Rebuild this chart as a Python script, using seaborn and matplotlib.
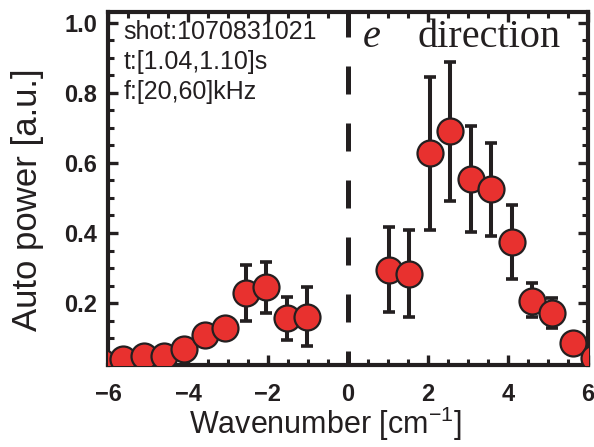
import numpy as np
import pandas as pd
import matplotlib
matplotlib.use("Agg")
import matplotlib.pyplot as plt
import seaborn as sns
from matplotlib.ticker import MultipleLocator

# Auto power spectrum versus wavenumber
wavenumber = [-6.14, -5.62, -5.11, -4.60, -4.09, -3.58, -3.07, -2.56, -2.05, -1.53, -1.02,
              1.02, 1.53, 2.05, 2.56, 3.07, 3.58, 4.09, 4.60, 5.11, 5.62, 6.14]
power = [0.031, 0.040, 0.049, 0.050, 0.068, 0.110, 0.128, 0.229, 0.245, 0.157, 0.160,
         0.294, 0.283, 0.628, 0.691, 0.555, 0.526, 0.375, 0.206, 0.171, 0.086, 0.043]
# error bar ends (NaN where the uncertainty is hidden by the marker)
err_low = [np.nan, np.nan, np.nan, np.nan, np.nan, np.nan, np.nan, 0.149, 0.172, 0.094, 0.077,
           0.174, 0.160, 0.409, 0.491, 0.403, 0.391, 0.269, 0.160, 0.130, np.nan, np.nan]
err_high = [np.nan, np.nan, np.nan, np.nan, np.nan, np.nan, np.nan, 0.309, 0.317, 0.217, 0.245,
            0.417, 0.408, 0.845, 0.889, 0.705, 0.656, 0.480, 0.258, 0.214, np.nan, np.nan]

info_lines = ["shot:1070831021", "t:[1.04,1.10]s", "f:[20,60]kHz"]
x_ticks = [-6, -4, -2, 0, 2, 4, 6]
y_ticks = [0.2, 0.4, 0.6, 0.8, 1.0]

df = pd.DataFrame({"k": wavenumber, "power": power, "lo": err_low, "hi": err_high})

ink = "#231f20"
red = "#e8312f"

sns.set_style("ticks")
plt.rcParams["font.family"] = ["Liberation Sans", "DejaVu Sans"]

fig = plt.figure(figsize=(5.94, 4.47), dpi=100)
ax = fig.add_axes([0.1818, 0.1834, 0.8081, 0.7897])

xmin, xmax = -6.0, 6.0
ymin, ymax = 0.023, 1.031
ax.set_xlim(xmin, xmax)
ax.set_ylim(ymin, ymax)

# dashed separator at k = 0
ax.axvline(0, color=ink, lw=3.6, ls=(2.8, (5.6, 5.8)), zorder=1)

# error bars
eb = df.dropna(subset=["lo", "hi"])
ax.errorbar(eb["k"], eb["power"],
            yerr=[eb["power"] - eb["lo"], eb["hi"] - eb["power"]],
            fmt="none", ecolor=ink, elinewidth=2.9, capsize=4.0, capthick=2.6, zorder=2)

# data markers
sns.scatterplot(data=df, x="k", y="power", ax=ax, s=350, color=red,
                edgecolor=ink, linewidth=1.6, zorder=3, legend=False)

# axes styling
for side in ["left", "right", "top", "bottom"]:
    ax.spines[side].set_visible(True)
    ax.spines[side].set_linewidth(3.0)
    ax.spines[side].set_color(ink)

ax.set_xticks(x_ticks)
ax.set_yticks(y_ticks)
ax.set_xticklabels([f"{v:d}".replace("-", "\u2212") for v in x_ticks])
ax.set_yticklabels([f"{v:.1f}" for v in y_ticks])
ax.xaxis.set_minor_locator(MultipleLocator(0.5))
ax.yaxis.set_minor_locator(MultipleLocator(0.05))
ax.tick_params(which="both", direction="in", top=True, right=True, color=ink)
ax.tick_params(which="major", length=7, width=2.4)
ax.tick_params(which="minor", length=4, width=2.2)
ax.tick_params(axis="x", which="major", pad=13)
ax.tick_params(axis="y", which="major", pad=8)
for lab in ax.get_xticklabels() + ax.get_yticklabels():
    lab.set_fontsize(17)
    lab.set_fontweight("bold")
    lab.set_color(ink)

ax.set_xlabel("Wavenumber [cm$^{\\mathregular{-1}}$]", fontsize=22, color=ink)
ax.set_ylabel("Auto power [a.u.]", fontsize=25, color=ink)
ax.xaxis.set_label_coords(0.452, -0.112)
ax.yaxis.set_label_coords(-0.134, 0.467)

# run information
for i, line in enumerate(info_lines):
    ax.text(-5.62, 0.955 - i * 0.086, line, fontsize=18, color=ink,
            va="baseline", ha="left")

# direction label
ax.text(0.37, 0.93, "e", fontsize=29, family="Liberation Serif", style="italic",
        color=ink, va="baseline", ha="left")
ax.text(1.75, 0.93, "direction", fontsize=29, family="Liberation Serif",
        color=ink, va="baseline", ha="left")

fig.savefig("out.png", dpi=100)
